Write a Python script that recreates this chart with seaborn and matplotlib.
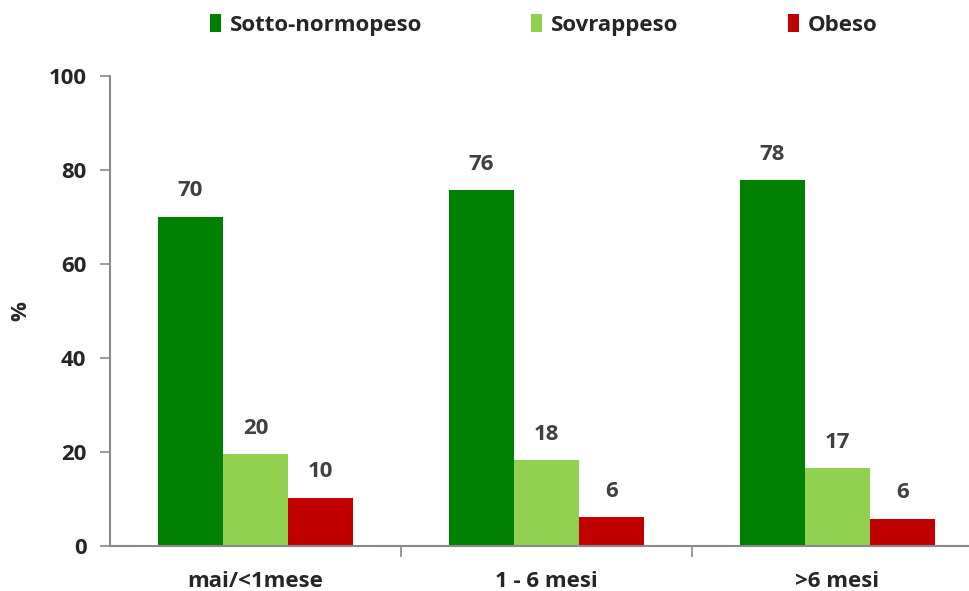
import pandas as pd
import seaborn as sns
import matplotlib.pyplot as plt

# data
categories = ['mai/<1mese', '1 - 6 mesi', '>6 mesi']
series = ['Sotto-normopeso', 'Sovrappeso', 'Obeso']
sotto_normopeso = [70.1, 75.7, 77.8]
sovrappeso = [19.6, 18.2, 16.6]
obeso = [10.3, 6.1, 5.8]
colors = ['#008000', '#92D050', '#C00000']

df = pd.DataFrame({
    'categoria': categories * 3,
    'serie': [series[0]] * 3 + [series[1]] * 3 + [series[2]] * 3,
    'valore': sotto_normopeso + sovrappeso + obeso,
})

sns.set_style('white')
plt.rcParams['font.family'] = ['Open Sans', 'DejaVu Sans']
plt.rcParams['font.weight'] = 'bold'

fig = plt.figure(figsize=(9.7, 5.91), dpi=100)
ax = fig.add_axes([110 / 970, 45 / 591, 873 / 970, 470 / 591])

sns.barplot(data=df, x='categoria', y='valore', hue='serie', order=categories,
            hue_order=series, palette=colors, width=0.67, saturation=1,
            edgecolor='none', ax=ax, legend=True)

for cont in ax.containers:
    ax.bar_label(cont, labels=[f'{v:.0f}' for v in cont.datavalues], padding=11,
                 fontsize=16, fontweight='bold', color='#404040')

ax.set_xlim(-0.5, 2.5)
ax.set_ylim(0, 100)
ax.set_yticks(range(0, 101, 20))
ax.set_xlabel('')
ax.set_ylabel('%', fontsize=16, fontweight='bold', labelpad=12)
ax.tick_params(axis='y', labelsize=16, length=7, width=1.2, color='#898989', pad=10, left=True)
ax.tick_params(axis='x', labelsize=16, length=0, pad=18)
for t in ax.get_xticklabels() + ax.get_yticklabels():
    t.set_fontweight('bold')

# category separator ticks
ax.set_xticks([0.5, 1.5], minor=True)
ax.tick_params(axis='x', which='minor', length=8, width=1.2, color='#898989', bottom=True)

for s in ['top', 'right']:
    ax.spines[s].set_visible(False)
for s in ['left', 'bottom']:
    ax.spines[s].set_color('#898989')
    ax.spines[s].set_linewidth(1.5)

leg = ax.legend(loc='upper left', bbox_to_anchor=(80 / 873, 1.175), ncol=3, frameon=False,
                fontsize=16, handlelength=0.5, handleheight=0.9, handletextpad=0.4,
                columnspacing=4.9)
for t in leg.get_texts():
    t.set_fontweight('bold')

fig.savefig('out.png', dpi=100)
